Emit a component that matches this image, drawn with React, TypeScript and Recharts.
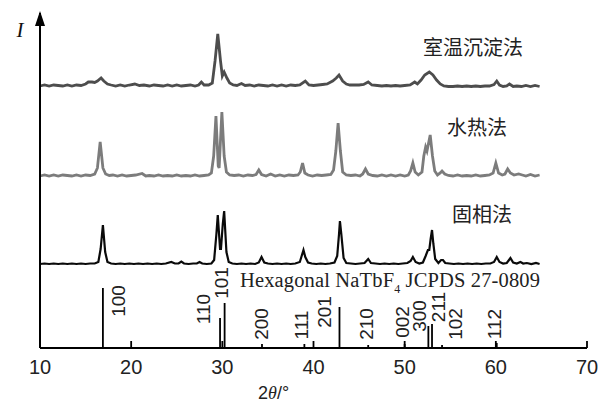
import { ComposedChart, Line, Scatter, XAxis, YAxis } from 'recharts'

// 2θ ticks
const thetaTicks = [10, 20, 30, 40, 50, 60, 70]

// 室温沉淀法 [2θ, I] (I above its own baseline)
const roomTemp: [number, number][] = [
  [10, 0], [10.5, 1], [11, 0], [11.5, 1], [12, 0.5], [12.5, 0], [13, 1], [13.5, 0], [14, 1], [14.5, 0.5],
  [15, 2], [15.3, 4], [15.7, 4], [16, 3.5], [16.3, 5], [16.7, 8], [17, 5], [17.4, 2], [17.8, 1], [18.3, 0],
  [18.8, 1], [19.3, 0], [19.8, 1], [20.4, 2], [20.9, 0.5], [21.4, 1], [22, 0], [22.5, 1], [23, 0.5], [23.5, 0],
  [24, 1], [24.5, 0], [25, 1], [25.5, 0], [26, 0.5], [26.5, 1], [27, 0], [27.4, 1], [27.7, 4], [28, 1],
  [28.5, 1], [28.9, 3], [29.2, 25], [29.5, 52], [29.8, 25], [30, 10], [30.2, 14], [30.5, 8], [30.8, 3], [31.2, 1],
  [31.6, 0.5], [32.1, 2.5], [32.5, 0.5], [33, 1], [33.5, 0], [34, 1], [34.5, 0.5], [35, 0], [35.5, 1], [36, 0],
  [36.5, 1], [37, 0], [37.5, 1], [38, 0.5], [38.5, 1], [39.1, 5], [39.5, 1], [40, 0.5], [40.5, 1], [41, 1.5],
  [41.5, 2], [42.1, 5], [42.5, 8], [42.8, 11], [43.2, 5], [43.6, 2], [44, 1], [44.5, 1], [45, 1], [45.5, 1.5],
  [46, 4], [46.4, 1], [47, 0.5], [47.5, 0], [48, 0.5], [48.5, 0], [49, 0.5], [49.5, 0], [50, 0.5], [50.6, 1],
  [51.1, 4], [51.4, 2], [51.8, 6], [52.2, 11], [52.7, 14], [53.1, 11], [53.5, 6], [53.9, 2], [54.3, 0], [54.8, -0.5],
  [55.3, -0.5], [55.8, 0], [56.3, -0.5], [56.8, 0], [57.3, -0.5], [57.8, 0], [58.3, -0.5], [58.8, 0], [59.3, 0], [59.8, 1.5],
  [60.1, 5], [60.4, 1], [60.8, -0.5], [61.2, 0], [61.5, 2], [61.9, -0.5], [62.3, 0], [62.8, -0.5], [63.3, 0.5], [63.8, -0.5],
  [64.3, 0.5], [64.8, -0.5],
]

// 水热法
const hydrothermal: [number, number][] = [
  [10, 0], [10.5, 1], [11, 0], [11.5, 1], [12, 0], [12.5, 1], [13, 0.5], [13.5, 0], [14, 1], [14.5, 0],
  [15, 1], [15.5, 0.5], [16, 2], [16.3, 8], [16.6, 34], [16.9, 8], [17.2, 2], [17.6, 0.5], [18, 1], [18.5, 0],
  [19, 1], [19.5, 0], [20, 0.5], [20.5, 1], [21.2, 2.5], [21.6, 0], [22, 0.5], [22.5, 0], [23, 1], [23.5, 0],
  [24, 0.5], [24.5, 0], [25, 1], [25.5, 0], [26, 0.5], [26.5, 0], [27, 1], [27.5, 0], [28, 0.5], [28.5, 1],
  [28.8, 3], [29.05, 20], [29.3, 60], [29.55, 10], [29.65, 8], [29.95, 64], [30.2, 20], [30.45, 4], [30.8, 1], [31.3, 0.5],
  [31.8, 1], [32.3, 0], [32.8, 1], [33.3, 0.5], [33.7, 1.5], [34, 6], [34.3, 1.5], [34.8, 0], [35.3, 2], [35.8, 0],
  [36.3, 1], [36.8, 0], [37.3, 1], [37.8, 0.5], [38.3, 1], [38.55, 4], [38.8, 13], [39.05, 3], [39.4, 1], [39.9, 0],
  [40.4, 1], [40.9, 0.5], [41.4, 1], [41.9, 1.5], [42.2, 6], [42.45, 25], [42.7, 53], [42.95, 25], [43.2, 4], [43.6, 1],
  [44.1, 0.5], [44.6, 1], [45.1, 0], [45.4, 2], [45.7, 7], [46, 2], [46.5, 0.5], [47, 0], [47.5, 1], [48, 0],
  [48.5, 1], [49, 0], [49.5, 1], [50, 0], [50.4, 1], [50.65, 5], [50.9, 13], [51.15, 4], [51.5, 1], [51.9, 4],
  [52.1, 20], [52.3, 29], [52.45, 25], [52.8, 41], [53.05, 20], [53.3, 5], [53.6, 1], [53.9, 3], [54.1, 5], [54.4, 2],
  [54.8, 0.5], [55.3, 0], [55.8, 1], [56.3, 0], [56.8, 0.5], [57.3, 0], [57.8, 1], [58.3, 0], [58.8, 0.5], [59.3, 1],
  [59.7, 3], [60, 13], [60.3, 3], [60.7, 1], [61, 2], [61.3, 7], [61.6, 3], [62, 1], [62.5, 2], [62.9, 1],
  [63.3, 0], [63.8, 1.5], [64.3, 0], [64.8, 1],
]

// 固相法
const solidState: [number, number][] = [
  [10, 0], [10.5, 0.5], [11, 0], [11.5, 0.5], [12, 0], [12.5, 0.5], [13, 0], [13.5, 0.5], [14, 0], [14.5, 0.5],
  [15, 0], [15.5, 0.5], [16, 0.5], [16.4, 2], [16.65, 15], [16.9, 39], [17.15, 12], [17.4, 2], [17.8, 0.5], [18.3, 0],
  [18.8, 0.5], [19.3, 0], [19.8, 0.5], [20.3, 0], [20.8, 0.5], [21.3, 0], [21.8, 0.5], [22.3, 0], [22.8, 0.5], [23.3, 0],
  [23.8, 0.5], [24.4, 2], [24.8, 0.5], [25.2, 0.5], [25.5, 2.5], [25.8, 0.5], [26.3, 0], [26.8, 0.5], [27.2, 0.5], [27.5, 2],
  [27.8, 0.5], [28.3, 0], [28.8, 0.5], [29.1, 4], [29.35, 30], [29.5, 49], [29.75, 15], [29.85, 15], [30.05, 40], [30.2, 53],
  [30.45, 12], [30.7, 2], [31.1, 0.5], [31.6, 0], [32.1, 0.5], [32.6, 0], [33.1, 0.5], [33.6, 0], [34, 1.5], [34.3, 7],
  [34.6, 1.5], [35, 0.5], [35.5, 0], [36, 0.5], [36.5, 0], [37, 0.5], [37.5, 0], [38, 0.5], [38.5, 2], [38.7, 8],
  [38.9, 14], [39.1, 7], [39.4, 1.5], [39.8, 0.5], [40.3, 0], [40.8, 0.5], [41.3, 0], [41.8, 0.5], [42.3, 1.5], [42.6, 8],
  [42.8, 30], [42.9, 43], [43.05, 30], [43.3, 6], [43.6, 1], [44.1, 0.5], [44.6, 0], [45.1, 0.5], [45.6, 1], [46, 5],
  [46.3, 1], [46.8, 0.5], [47.3, 0], [47.8, 0.5], [48.3, 0], [48.8, 0.5], [49.3, 0], [49.8, 0.5], [50.3, 1], [50.65, 3],
  [50.9, 7], [51.2, 2], [51.6, 0.5], [52, 1.5], [52.3, 8], [52.55, 14], [52.7, 14], [52.85, 25], [53, 34], [53.15, 20],
  [53.35, 5], [53.7, 1], [54, 4], [54.2, 4], [54.45, 1], [54.9, 0.5], [55.4, 0], [55.9, 0.5], [56.4, 0], [56.9, 0.5],
  [57.4, 0], [57.9, 0.5], [58.4, 0], [58.9, 0.5], [59.4, 0.5], [59.8, 2], [60.1, 7], [60.4, 2], [60.8, 0.5], [61.2, 1],
  [61.6, 6], [61.9, 1.5], [62.3, 0.5], [62.7, 2], [63, 0.5], [63.4, 1], [63.9, 0], [64.4, 1], [64.8, 0],
]

// vertical offsets of the stacked patterns
const roomTempOffset = 262
const hydroOffset = 172
const solidOffset = 84

// JCPDS 27-0809 reference lines
const hklNames = ['100', '110', '101', '200', '111', '201', '210', '002', '300', '211', '102', '112']
const hklTheta = [16.9, 29.75, 30.25, 34.35, 39.0, 42.85, 46.0, 50.0, 52.6, 53.0, 54.1, 60.1]
const hklIntensity = [60, 30, 45, 4, 4, 41, 3, 4, 22, 24, 3, 5]

// label shift from the top of each line (px)
const hklLabelShift: Record<string, [number, number]> = {
  '100': [16, 13], '110': [-17, -9], '101': [-3, -20], '200': [0, -20], '111': [-3, -19], '201': [-15, 5],
  '210': [-2, -21], '002': [-2, -22], '300': [-9, -10], '211': [6, -17], '102': [13, -21], '112': [-2, -19],
}

const toRows = (pts: [number, number][], off: number) => pts.map(([x, y]) => ({ x, y: y + off }))
const roomTempData = toRows(roomTemp, roomTempOffset)
const hydroData = toRows(hydrothermal, hydroOffset)
const solidData = toRows(solidState, solidOffset)
const stickData = hklTheta.flatMap((x, i) => [{ x, y: 0 }, { x, y: hklIntensity[i] }, { x, y: 0 }])
const stickTops = hklTheta.map((x, i) => ({ x, y: hklIntensity[i], hkl: hklNames[i] }))

const sans = '"Liberation Sans", Arial, sans-serif'
const serif = '"Liberation Serif", "Times New Roman", serif'
const cjk = '"Noto Sans CJK SC", sans-serif'

function ThetaTick({ x, y, payload }: any) {
  return (
    <g>
      <line x1={x} y1={y} x2={x} y2={y - 7} stroke="#000" strokeWidth={1.8} />
      <text x={x} y={y + 26} textAnchor="middle" fontSize={20} fill="#222" fontFamily={sans}>
        {payload.value}
      </text>
    </g>
  )
}

function HklLabel({ cx, cy, payload }: any) {
  const [dx, dy] = hklLabelShift[payload.hkl]
  const lx = cx + dx
  const ly = cy + dy
  return (
    <text x={lx} y={ly} transform={`rotate(-90 ${lx} ${ly})`} textAnchor="middle" dominantBaseline="central"
      fontSize={19} fill="#222" fontFamily={sans}>
      {payload.hkl}
    </text>
  )
}

function YArrow({ viewBox }: any) {
  const x = viewBox.x + viewBox.width
  const top = viewBox.y
  return (
    <g>
      <path d={`M${x},${top - 2} L${x - 5},${top + 13} L${x + 5},${top + 13} Z`} fill="#000" />
      <text x={x - 20} y={top + 24} textAnchor="middle" fontSize={21} fontStyle="italic" fontFamily={serif} fill="#111">I</text>
    </g>
  )
}

function ThetaTitle({ viewBox }: any) {
  const cx = viewBox.x + viewBox.width * 0.427
  return (
    <text x={cx} y={viewBox.y + 51} textAnchor="middle" fontSize={18} fill="#222" fontFamily={sans}>
      2<tspan fontStyle="italic" fontFamily={serif}>θ</tspan>/°
    </text>
  )
}

export default function App() {
  return (
    <div style={{ position: 'absolute', left: 0, top: 0, width: 608, height: 403, background: '#fff' }}>
      <ComposedChart width={608} height={403} margin={{ top: 13, right: 21, bottom: 15, left: 30 }}>
        <XAxis
          dataKey="x"
          type="number"
          domain={[10, 70]}
          ticks={thetaTicks}
          interval={0}
          height={40}
          tickSize={0}
          tickMargin={0}
          tickLine={false}
          tick={<ThetaTick />}
          axisLine={{ stroke: '#000', strokeWidth: 2 }}
          label={<ThetaTitle />}
        />
        <YAxis
          type="number"
          domain={[0, 335]}
          width={10}
          tick={false}
          tickLine={false}
          axisLine={{ stroke: '#000', strokeWidth: 2 }}
          label={<YArrow />}
        />
        <Line data={stickData} dataKey="y" type="linear" stroke="#000" strokeWidth={1.8} dot={false} isAnimationActive={false} />
        <Line data={solidData} dataKey="y" type="linear" stroke="#0a0a0a" strokeWidth={2.2} dot={false} isAnimationActive={false} />
        <Line data={hydroData} dataKey="y" type="linear" stroke="#7c7c7c" strokeWidth={2.8} dot={false} isAnimationActive={false} />
        <Line data={roomTempData} dataKey="y" type="linear" stroke="#4d4d4d" strokeWidth={2.8} dot={false} isAnimationActive={false} />
        <Scatter data={stickTops} dataKey="y" shape={<HklLabel />} isAnimationActive={false} />
      </ComposedChart>
      <svg width={608} height={403} style={{ position: 'absolute', left: 0, top: 0, pointerEvents: 'none' }}>
        <text x={423} y={55} fontSize={20} fill="#222" fontFamily={cjk}>室温沉淀法</text>
        <text x={447} y={135} fontSize={20} fill="#222" fontFamily={cjk}>水热法</text>
        <text x={452} y={222} fontSize={20} fill="#222" fontFamily={cjk}>固相法</text>
        <text x={240} y={287} fontSize={20.5} fill="#222" fontFamily={serif} textLength={300} lengthAdjust="spacing">
          Hexagonal NaTbF<tspan fontSize={12} dy={6}>4</tspan><tspan dy={-6}> JCPDS 27-0809</tspan>
        </text>
      </svg>
    </div>
  )
}
